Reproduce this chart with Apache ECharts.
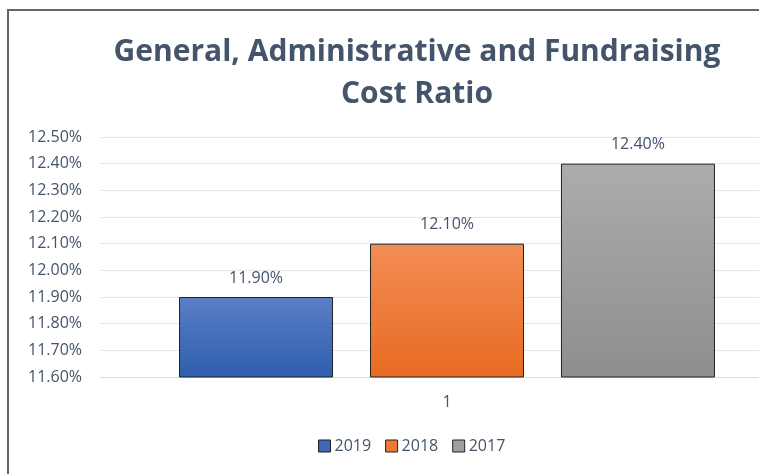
<!DOCTYPE html>
<html lang="en">
<head>
    <meta charset="UTF-8">
    <title>Cost Ratio</title>
    <script src="https://cdn.jsdelivr.net/npm/echarts@6/dist/echarts.min.js"></script>
    <style>
        html, body { margin: 0; padding: 0; background: #fff; overflow: hidden; width: 759px; height: 474px; }
        /* the plot runs off the right edge in the original, so the canvas is wider than the window */
        #chart1 { width: 800px; height: 474px; }
        .frame { position: absolute; left: 7px; top: 9px; width: 760px; height: 470px;
                 border-left: 2px solid #666; border-top: 2px solid #666; pointer-events: none; }
    </style>
</head>
<body>
    <div id="chart1"></div>
    <div class="frame"></div>
</body>
<script type="text/javascript">
    // data
    var categories = ['1'];
    var seriesNames = ['2019', '2018', '2017'];
    var values2019 = [11.90];
    var values2018 = [12.10];
    var values2017 = [12.40];
    var yTicks = { min: 11.6, max: 12.5, step: 0.1 };

    var txt = '#44546A';
    var font = '"Open Sans", Lato, sans-serif';

    function grad(top, bottom) {
        return new echarts.graphic.LinearGradient(0, 0, 0, 1, [
            { offset: 0, color: top },
            { offset: 1, color: bottom }
        ]);
    }

    function bar(name, data, top, bottom) {
        return {
            name: name,
            type: 'bar',
            data: data,
            barWidth: 154,
            barGap: '24%',
            itemStyle: { color: grad(top, bottom), borderColor: '#222', borderWidth: 1 },
            label: {
                show: true, position: 'top', distance: 11,
                color: txt, fontSize: 16, fontFamily: font,
                formatter: function (p) { return p.value.toFixed(2) + '%'; }
            }
        };
    }

    var chart = echarts.init(document.getElementById('chart1'));
    chart.setOption({
        animation: false,
        title: {
            text: 'General, Administrative and Fundraising\nCost Ratio',
            left: 412, top: 26, textAlign: 'center',
            textStyle: { color: txt, fontSize: 30, fontWeight: 'bold', fontFamily: font, lineHeight: 42 }
        },
        color: ['#3E67B5', '#ED7A33', '#A0A0A0'],
        legend: {
            left: 313, top: 433,
            itemWidth: 12, itemHeight: 12, itemGap: 14,
            icon: 'rect',
            textStyle: { color: txt, fontSize: 16, fontFamily: font, padding: [0, 0, 0, -1] },
            data: [
                { name: '2019', itemStyle: { color: '#3E67B5', borderColor: '#222', borderWidth: 1 } },
                { name: '2018', itemStyle: { color: '#ED7A33', borderColor: '#222', borderWidth: 1 } },
                { name: '2017', itemStyle: { color: '#A0A0A0', borderColor: '#222', borderWidth: 1 } }
            ]
        },
        grid: { left: 100, top: 137, width: 694, height: 240, containLabel: false },
        xAxis: {
            type: 'category',
            data: categories,
            axisLine: { show: true, lineStyle: { color: '#D9DDE3' } },
            axisTick: { show: false },
            axisLabel: { color: txt, fontSize: 16, fontFamily: font, margin: 17 }
        },
        yAxis: {
            type: 'value',
            min: yTicks.min, max: yTicks.max, interval: yTicks.step,
            axisLine: { show: false },
            axisTick: { show: false },
            splitLine: { lineStyle: { color: '#E2E5EA', width: 1 } },
            axisLabel: {
                color: txt, fontSize: 16, fontFamily: font, margin: 18,
                formatter: function (v) { return v.toFixed(2) + '%'; }
            }
        },
        series: [
            bar(seriesNames[0], values2019, '#5B7EC6', '#2E5EAD'),
            bar(seriesNames[1], values2018, '#F38D55', '#E86A22'),
            bar(seriesNames[2], values2017, '#ACACAC', '#8E8E8E')
        ]
    });
</script>
</html>
